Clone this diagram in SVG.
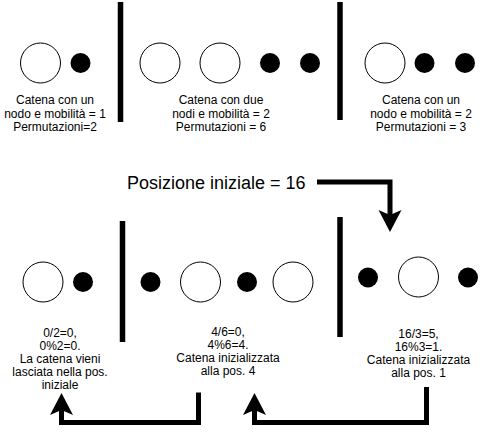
<svg xmlns="http://www.w3.org/2000/svg" width="480" height="433" viewBox="0 0 480 433">
<style>
text{font-family:"Liberation Sans",Arial,sans-serif;font-size:12px;fill:#000;text-anchor:middle}
.big{font-size:18px;text-anchor:start}
.o{fill:#fff;stroke:#000;stroke-width:1}
.d{fill:#000}
.sep{stroke:#000;stroke-width:5.5;fill:none}
.conn{stroke:#000;stroke-width:5;fill:none;stroke-linejoin:miter;stroke-linecap:butt;marker-end:url(#ah)}
</style>
<defs>
<marker id="ah" markerUnits="userSpaceOnUse" markerWidth="23" markerHeight="23" refX="5" refY="11.5" orient="auto" overflow="visible">
<path d="M0,0 L22,11.5 L0,23 L5,11.5 Z" fill="#000"/>
</marker>
</defs>
<g id="separators">
<line class="sep" x1="120.5" y1="2" x2="120.5" y2="122"/>
<line class="sep" x1="340" y1="2" x2="340" y2="120"/>
<line class="sep" x1="122.5" y1="221" x2="122.5" y2="342"/>
<line class="sep" x1="340" y1="217" x2="340" y2="337"/>
</g>
<g id="chain1">
<circle class="o" cx="40.5" cy="63" r="20"/>
<circle class="d" cx="80.5" cy="63" r="10"/>
<text x="55" y="104">Catena con un</text>
<text x="55" y="117.7">nodo e mobilità = 1</text>
<text x="55" y="131.4">Permutazioni=2</text>
</g>
<g id="chain2">
<circle class="o" cx="160" cy="63" r="20"/>
<circle class="o" cx="220" cy="63" r="20"/>
<circle class="d" cx="270" cy="63" r="10"/>
<circle class="d" cx="310" cy="63" r="10"/>
<text x="221" y="104">Catena con due</text>
<text x="221" y="117.7">nodi e mobilità = 2</text>
<text x="221" y="131.4">Permutazioni = 6</text>
</g>
<g id="chain3">
<circle class="o" cx="385" cy="63" r="20"/>
<circle class="d" cx="424.5" cy="63" r="10"/>
<circle class="d" cx="465" cy="63" r="10"/>
<text x="421" y="104">Catena con un</text>
<text x="421" y="117.7">nodo e mobilità = 2</text>
<text x="421" y="131.4">Permutazioni = 3</text>
</g>
<g id="start">
<text class="big" x="127" y="189">Posizione iniziale = 16</text>
</g>
<g id="result1">
<circle class="o" cx="43" cy="282" r="20"/>
<circle class="d" cx="83" cy="282" r="10"/>
<text x="60" y="336.5">0/2=0,</text>
<text x="60" y="349.6">0%2=0.</text>
<text x="60" y="362.7">La catena vieni</text>
<text x="60" y="375.8">lasciata nella pos.</text>
<text x="60" y="388.9">iniziale</text>
</g>
<g id="result2">
<circle class="d" cx="150.5" cy="282" r="10"/>
<circle class="o" cx="200.5" cy="282" r="20"/>
<circle class="d" cx="247" cy="282" r="10"/>
<circle class="o" cx="293" cy="282" r="20"/>
<text x="228" y="335.5">4/6=0,</text>
<text x="228" y="348.6">4%6=4.</text>
<text x="228" y="361.7">Catena inizializzata</text>
<text x="228" y="374.8">alla pos. 4</text>
</g>
<g id="result3">
<circle class="d" cx="368" cy="277.5" r="10"/>
<circle class="o" cx="418.5" cy="277" r="20"/>
<circle class="d" cx="468" cy="277.5" r="10"/>
<text x="418.5" y="337.5">16/3=5,</text>
<text x="418.5" y="350.6">16%3=1.</text>
<text x="418.5" y="363.7">Catena inizializzata</text>
<text x="418.5" y="376.8">alla pos. 1</text>
</g>
<g id="connectors">
<path class="conn" d="M317,182 H390 V215"/>
<path class="conn" d="M426.5,387 V422.5 H254.5 V410"/>
<path class="conn" d="M198.5,392.5 V422.5 H61.5 V410"/>
</g>
</svg>
